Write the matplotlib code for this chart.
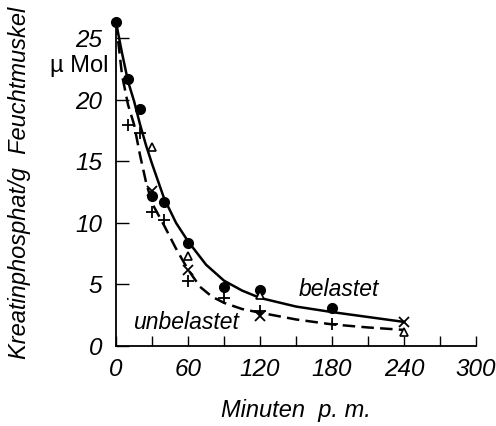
import matplotlib
matplotlib.use("Agg")
import matplotlib.pyplot as plt

# curve readings (minutes, µMol/g)
curve_t_bel = [0, 5, 10, 15, 20, 25, 30, 40, 50, 60, 75, 90, 105, 120, 150, 180, 210, 240]
curve_bel = [26.3, 23.8, 21.5, 19.9, 18.0, 16.3, 14.8, 12.0, 10.0, 8.5, 6.6, 5.3, 4.5, 3.9, 3.2, 2.75, 2.35, 1.95]

curve_t_unb = [0, 5, 10, 15, 20, 25, 30, 40, 50, 60, 70, 80, 90, 105, 120, 150, 180, 210, 240]
curve_unb = [26.3, 22.0, 19.6, 18.0, 15.5, 13.3, 11.6, 9.8, 7.9, 6.2, 4.8, 4.0, 3.5, 3.0, 2.7, 2.15, 1.75, 1.5, 1.3]

# measured points
circ_t = [0, 10, 20, 30, 40, 60, 90, 120, 180]
circ_v = [26.3, 21.7, 19.3, 12.2, 11.7, 8.4, 4.8, 4.55, 3.05]
tri_t = [30, 60, 120, 240]
tri_v = [16.2, 7.3, 4.1, 1.15]
plus_t = [10, 20, 30, 40, 60, 90, 120, 180]
plus_v = [18.0, 17.3, 10.9, 10.2, 5.3, 3.9, 2.8, 1.75]
x_t = [30, 60, 120, 240]
x_v = [12.6, 6.2, 2.4, 1.95]

xticks = [0, 60, 120, 180, 240, 300]
yticks = [0, 5, 10, 15, 20, 25]

fnt = "Liberation Sans"

fig = plt.figure(figsize=(4.96, 4.26), dpi=100)
ax = fig.add_axes([0.234, 0.188, 0.726, 0.765])

ax.plot(curve_t_bel, curve_bel, color="black", lw=1.8)
ax.plot(curve_t_unb, curve_unb, color="black", lw=1.8, dashes=(5, 2.5))

ax.plot(circ_t, circ_v, "o", color="black", ms=7, clip_on=False)
ax.plot(tri_t, tri_v, "^", mfc="white", mec="black", mew=1.2, ms=6, clip_on=False)
ax.plot(plus_t, plus_v, "+", color="black", ms=9, mew=1.3, clip_on=False)
ax.plot(x_t, x_v, "x", color="black", ms=7, mew=1.3, clip_on=False)

ax.set_xlim(0, 300)
ax.set_ylim(0, 26.5)
ax.spines["top"].set_visible(False)
ax.spines["right"].set_visible(False)
ax.spines["left"].set_linewidth(1.3)
ax.spines["bottom"].set_linewidth(1.3)

ax.set_xticks(range(0, 301, 30), minor=True)
ax.set_xticks(xticks)
ax.set_yticks(yticks)
ax.tick_params(axis="x", which="both", direction="in", length=7, width=1, pad=9)
ax.tick_params(axis="y", direction="in", length=9, width=1, pad=10)
ax.tick_params(axis="both", labelsize=17.5)
for lab in ax.get_xticklabels() + ax.get_yticklabels():
    lab.set_family(fnt)
    lab.set_style("italic")

ax.set_xlabel("Minuten  p. m.", family=fnt, style="italic", fontsize=17, labelpad=13)
ax.set_ylabel("Kreatinphosphat/g  Feuchtmuskel", family=fnt, style="italic", fontsize=17, labelpad=32)

ax.text(-6, 22.8, "µ Mol", family=fnt, fontsize=17, ha="right", va="center", clip_on=False)
ax.text(152, 4.6, "belastet", family=fnt, style="italic", fontsize=16.5, ha="left", va="center")
ax.text(14, 1.9, "unbelastet", family=fnt, style="italic", fontsize=16.5, ha="left", va="center")

fig.savefig("out.png", dpi=100)
